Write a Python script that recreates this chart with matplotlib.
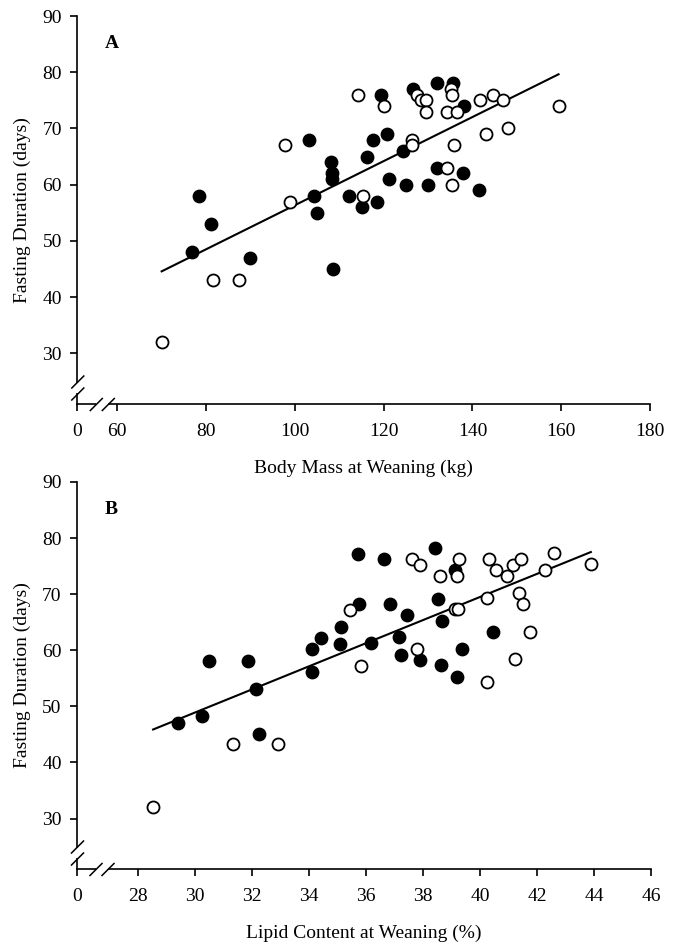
import numpy as np
import matplotlib.pyplot as plt

plt.rcParams['font.family'] = ['Liberation Serif', 'DejaVu Serif']

# panel A: body mass (kg) vs fasting duration (days)
mass_filled = [76.8, 78.4, 81.1, 89.9, 103.2, 104.4, 105.0, 108.2, 108.4, 108.4,
               108.6, 112.2, 115.2, 118.6, 116.3, 117.7, 119.3, 120.8, 121.3, 124.4,
               125.1, 126.7, 129.9, 132.1, 132.1, 135.7, 137.8, 138.2, 141.4]
days_mass_filled = [48, 58, 53, 47, 68, 58, 55, 64, 62, 61,
                    45, 58, 56, 57, 65, 68, 76, 69, 61, 66,
                    60, 77, 60, 78, 63, 78, 62, 74, 59]
mass_open = [70.0, 81.6, 87.4, 97.8, 98.9, 114.3, 115.4, 120.0, 126.5, 126.5,
             127.6, 128.5, 129.6, 129.6, 134.2, 134.2, 135.1, 135.5, 135.5, 135.9,
             136.6, 141.6, 143.0, 144.6, 147.0, 148.1, 159.4]
days_mass_open = [32, 43, 43, 67, 57, 76, 58, 74, 68, 67,
                  76, 75, 75, 73, 63, 73, 77, 76, 60, 67,
                  73, 75, 69, 76, 75, 70, 74]
fit_mass = (0.392, 17.15)   # slope, intercept

# panel B: lipid content (%) vs fasting duration (days)
lipid_filled = [29.40, 30.25, 30.49, 31.86, 32.14, 32.25, 34.11, 34.11, 34.42, 35.12,
                35.09, 35.75, 35.72, 36.18, 36.63, 36.84, 37.16, 37.23, 37.44, 37.89,
                38.42, 38.53, 38.63, 38.67, 39.12, 39.19, 39.37, 40.46]
days_lipid_filled = [47.1, 48.2, 58.1, 58.1, 53.1, 45.1, 60.3, 56.2, 62.2, 64.2,
                     61.2, 68.3, 77.2, 61.3, 76.3, 68.3, 62.4, 59.2, 66.3, 58.3,
                     78.2, 69.2, 57.4, 65.3, 74.3, 55.3, 60.3, 63.3]
lipid_open = [28.53, 31.33, 32.91, 35.44, 35.82, 37.61, 37.79, 37.89, 38.60, 39.12,
              39.23, 39.26, 39.19, 40.25, 40.25, 40.32, 40.56, 40.95, 41.16, 41.23,
              41.37, 41.44, 41.51, 41.75, 42.28, 42.60, 43.89]
days_lipid_open = [32.1, 43.2, 43.2, 67.2, 57.2, 76.3, 60.3, 75.2, 73.3, 67.4,
                   67.4, 76.3, 73.3, 69.3, 54.4, 76.3, 74.3, 73.3, 75.2, 58.5,
                   70.2, 76.3, 68.3, 63.3, 74.3, 77.4, 75.4]
fit_lipid = (2.06, -12.9)

y_ticks = [30, 40, 50, 60, 70, 80, 90]
mass_ticks = [60, 80, 100, 120, 140, 160, 180]
lipid_ticks = [28, 30, 32, 34, 36, 38, 40, 42, 44, 46]

W, H = 674, 947
fig = plt.figure(figsize=(W / 100, H / 100), dpi=100)


def make_axes(left, top, right, bottom):
    return fig.add_axes([left / W, 1 - bottom / H, (right - left) / W, (bottom - top) / H])


def break_marks(ax):
    # pixel offsets from the lower-left corner of the axes
    bb = ax.get_position()
    aw, ah = bb.width * W, bb.height * H
    kw = dict(transform=ax.transAxes, clip_on=False, zorder=10)
    # gaps in the spines
    ax.plot([0, 0], [11 / ah, 21 / ah], color='white', lw=3, solid_capstyle='butt', **kw)
    ax.plot([19 / aw, 31 / aw], [0, 0], color='white', lw=3, solid_capstyle='butt', **kw)
    for y0 in (4, 16):
        ax.plot([-5.5 / aw, 6.5 / aw], [y0 / ah, (y0 + 12) / ah], color='black', lw=1.1, **kw)
    for x0 in (13, 25):
        ax.plot([x0 / aw, (x0 + 12) / aw], [-6.5 / ah, 5.5 / ah], color='black', lw=1.1, **kw)


def draw_panel(ax, xf, yf, xo, yo, fit, xlim, xticks, letter, xlabel):
    ax.scatter(xf, yf, s=80, c='black', edgecolors='black', linewidths=1, zorder=3)
    ax.scatter(xo, yo, s=75, c='white', edgecolors='black', linewidths=1.3, zorder=4)
    xall = np.concatenate([xf, xo])
    xs = np.array([xall.min(), xall.max()])
    ax.plot(xs, fit[0] * xs + fit[1], color='black', lw=1.5, zorder=2)

    ax.set_xlim(xlim)
    ax.set_ylim(21, 90)
    ax.set_xticks([xlim[0]] + xticks)
    ax.set_xticklabels(['0'] + [str(t) for t in xticks])
    ax.set_yticks(y_ticks)
    for side in ('top', 'right'):
        ax.spines[side].set_visible(False)
    for side in ('left', 'bottom'):
        ax.spines[side].set_linewidth(1.2)
    ax.tick_params(axis='both', direction='out', length=5, width=1.2, labelsize=14)
    ax.tick_params(axis='x', pad=9)
    ax.tick_params(axis='y', pad=6)
    ax.set_ylabel('Fasting Duration (days)', fontsize=14, labelpad=8)
    ax.set_xlabel(xlabel, fontsize=14, labelpad=14)
    ax.text(0.06, 0.93, letter, transform=ax.transAxes, fontsize=14,
            fontweight='bold', va='center', ha='center')
    break_marks(ax)


ax_a = make_axes(77.3, 16, 650, 404)
draw_panel(ax_a, mass_filled, days_mass_filled, mass_open, days_mass_open, fit_mass,
           (51.0, 180), mass_ticks, 'A', 'Body Mass at Weaning (kg)')

ax_b = make_axes(77, 482, 651, 869)
draw_panel(ax_b, lipid_filled, days_lipid_filled, lipid_open, days_lipid_open, fit_lipid,
           (25.86, 46), lipid_ticks, 'B', 'Lipid Content at Weaning (%)')

fig.savefig('out.png', dpi=100)
